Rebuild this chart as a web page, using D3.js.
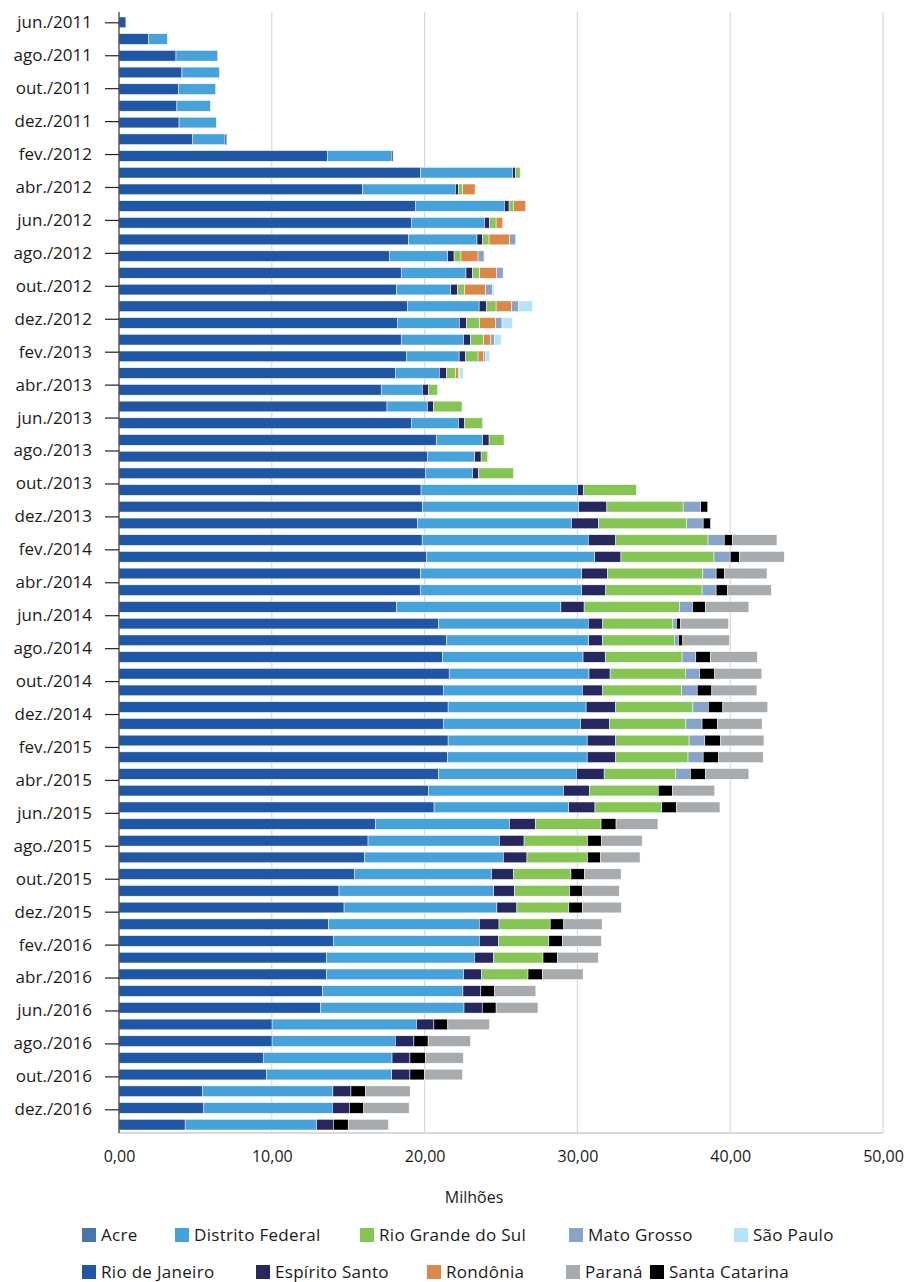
<!DOCTYPE html>
<html>
<head>
<meta charset="utf-8">
<script src="https://cdn.jsdelivr.net/npm/d3@7"></script>
<style>
  html, body { margin: 0; padding: 0; background: #ffffff; }
  svg { display: block; font-family: "Open Sans", "Noto Sans", sans-serif; }
</style>
</head>
<body>
<svg id="chart" width="910" height="1282"></svg>
<script>
// ---------- DATA ----------
const months = [
  "jun./2011","jul./2011","ago./2011","set./2011","out./2011","nov./2011","dez./2011",
  "jan./2012","fev./2012","mar./2012","abr./2012","mai./2012","jun./2012","jul./2012","ago./2012","set./2012","out./2012","nov./2012","dez./2012",
  "jan./2013","fev./2013","mar./2013","abr./2013","mai./2013","jun./2013","jul./2013","ago./2013","set./2013","out./2013","nov./2013","dez./2013",
  "jan./2014","fev./2014","mar./2014","abr./2014","mai./2014","jun./2014","jul./2014","ago./2014","set./2014","out./2014","nov./2014","dez./2014",
  "jan./2015","fev./2015","mar./2015","abr./2015","mai./2015","jun./2015","jul./2015","ago./2015","set./2015","out./2015","nov./2015","dez./2015",
  "jan./2016","fev./2016","mar./2016","abr./2016","mai./2016","jun./2016","jul./2016","ago./2016","set./2016","out./2016","nov./2016","dez./2016"
];

const xTicks = [0, 10, 20, 30, 40, 50];

const acre = [
  0,0,0,0,0,0,0,0,0,
  0,0,0,0,0,0,0,0,0,0,
  0,0,0,0,0,0,0,0,0,0,
  0,0,0,0,0,0,0,0,0,0,
  0,0,0,0,0,0,0,0,0,0,
  0,0,0,0,0,0,0,0,0,0,
  0,0,0,0,0,0,0,0
];
const rioDeJaneiro = [
  0.45,1.94,3.73,4.12,3.88,3.79,3.93,4.80,13.64,
  19.72,15.94,19.39,19.13,18.95,17.69,18.47,18.15,18.87,18.21,
  18.47,18.80,18.08,17.16,17.54,19.13,20.77,20.18,20.05,19.77,
  19.86,19.52,19.84,20.11,19.72,19.72,18.16,20.90,21.43,21.17,
  21.61,21.22,21.54,21.22,21.54,21.49,20.92,20.25,20.62,16.79,
  16.30,16.07,15.41,14.40,14.73,13.72,14.03,13.58,13.58,13.33,
  13.18,10.02,10.02,9.44,9.65,5.46,5.55,4.33
];
const distritoFederal = [
  0,1.22,2.73,2.45,2.45,2.19,2.44,2.14,4.18,
  6.03,6.07,5.83,4.78,4.48,3.82,4.24,3.55,4.70,4.06,
  4.07,3.46,2.88,2.69,2.64,3.08,3.03,3.10,3.08,10.23,
  10.21,10.09,10.87,11.02,10.56,10.56,10.76,9.81,9.31,9.20,
  9.15,9.10,9.03,8.99,9.10,9.15,9.01,8.83,8.81,8.76,
  8.59,9.08,8.97,10.12,10.00,9.86,9.55,9.68,8.97,9.18,
  9.40,9.44,8.06,8.43,8.20,8.54,8.41,8.60
];
const espiritoSanto = [
  0,0,0,0,0,0,0,0.11,0.11,
  0.19,0.20,0.31,0.35,0.35,0.42,0.42,0.46,0.47,0.46,
  0.46,0.43,0.46,0.41,0.41,0.41,0.42,0.42,0.41,0.41,
  1.86,1.77,1.80,1.72,1.70,1.58,1.52,0.95,0.89,1.45,
  1.38,1.34,1.94,1.88,1.87,1.87,1.82,1.72,1.72,1.71,
  1.62,1.55,1.43,1.36,1.31,1.29,1.24,1.24,1.17,1.17,
  1.19,1.15,1.22,1.17,1.19,1.18,1.12,1.10
];
const rioGrandeDoSul = [
  0,0,0,0,0,0,0,0,0,
  0.31,0.28,0.28,0.42,0.44,0.45,0.48,0.46,0.64,0.88,
  0.87,0.81,0.61,0.59,1.86,1.18,0.98,0.43,2.27,3.45,
  4.99,5.77,6.04,6.09,6.23,6.30,6.23,4.59,4.71,5.03,
  4.92,5.17,5.05,5.01,4.80,4.73,4.69,4.49,4.37,4.29,
  4.15,3.96,3.77,3.61,3.40,3.35,3.31,3.25,3.05,0,
  0,0,0,0,0,0,0,0
];
const rondonia = [
  0,0,0,0,0,0,0,0,0,
  0,0.81,0.81,0.43,1.35,1.12,1.09,1.38,1.02,1.04,
  0.46,0.37,0.20,0,0,0,0,0,0,0,
  0,0,0,0,0,0,0,0,0,0,
  0,0,0,0,0,0,0,0,0,0,
  0,0,0,0,0,0,0,0,0,0,
  0,0,0,0,0,0,0,0
];
const matoGrosso = [
  0,0,0,0,0,0,0,0,0,
  0,0,0,0,0.39,0.39,0.44,0.46,0.44,0.42,
  0.24,0.11,0.06,0,0,0,0,0,0,0,
  1.15,1.08,1.06,1.06,0.87,0.92,0.87,0.23,0.28,0.90,
  0.94,1.01,1.01,1.06,1.03,0.99,0.96,0,0,0,
  0,0,0,0,0,0,0,0,0,0,
  0,0,0,0,0,0,0,0
];
const saoPaulo = [
  0,0,0,0,0,0,0,0,0,
  0,0,0,0,0,0,0,0.09,0.92,0.70,
  0.44,0.28,0.23,0,0,0,0,0,0,0,
  0,0,0,0,0,0,0,0,0,0,
  0,0,0,0,0,0,0,0,0,0,
  0,0,0,0,0,0,0,0,0,0,
  0,0,0,0,0,0,0,0
];
const santaCatarina = [
  0,0,0,0,0,0,0,0,0,
  0,0,0,0,0,0,0,0,0,0,
  0,0,0,0,0,0,0,0,0,0,
  0.46,0.48,0.53,0.60,0.55,0.76,0.83,0.28,0.28,0.96,
  0.99,0.96,0.95,1.01,1.04,1.01,0.99,0.94,0.96,0.98,
  0.93,0.86,0.89,0.86,0.89,0.89,0.89,0.94,0.93,0.91,
  0.91,0.91,0.93,1.01,0.94,0.96,0.94,0.97
];
const parana = [
  0,0,0,0,0,0,0,0,0,
  0,0,0,0,0,0,0,0,0,0,
  0,0,0,0,0,0,0,0,0,0,
  0,0,2.92,2.94,2.78,2.85,2.85,3.13,3.05,3.06,
  3.08,2.95,2.94,2.92,2.83,2.92,2.83,2.76,2.85,2.74,
  2.65,2.58,2.39,2.39,2.55,2.51,2.55,2.67,2.67,2.69,
  2.74,2.72,2.77,2.48,2.50,2.92,2.97,2.64
];

const seriesNames = ["Acre","Rio de Janeiro","Distrito Federal","Espírito Santo","Rio Grande do Sul",
                     "Rondônia","Mato Grosso","São Paulo","Santa Catarina","Paraná"];
const seriesValues = [acre, rioDeJaneiro, distritoFederal, espiritoSanto, rioGrandeDoSul,
                      rondonia, matoGrosso, saoPaulo, santaCatarina, parana];
const seriesColors = ["#4677AC","#1F57A6","#45A2DA","#26275F","#84C553",
                      "#DA8747","#87A3CA","#B8E2F8","#000000","#A8ABAD"];

// legend layout order (two rows, as in the reference)
const legendRow1 = ["Acre","Distrito Federal","Rio Grande do Sul","Mato Grosso","São Paulo"];
const legendRow2 = ["Rio de Janeiro","Espírito Santo","Rondônia","Paraná","Santa Catarina"];

// ---------- CHART ----------
const svg = d3.select("#chart");
const plot = { left: 119, right: 883, top: 12, bottom: 1133 };

const x = d3.scaleLinear().domain([0, 50]).range([plot.left, plot.right]);
const y = d3.scaleBand().domain(months).range([14, 1133]).paddingInner(0.36).paddingOuter(0.18);
const tickLabels = months.filter((m, i) => i % 2 === 0);
const yLab = d3.scalePoint().domain(tickLabels).range([22.3, 1109.3]);

const color = d3.scaleOrdinal().domain(seriesNames).range(seriesColors);

// table for stacking
const table = months.map((m, i) => {
  const row = { month: m };
  seriesNames.forEach((s, k) => { row[s] = seriesValues[k][i]; });
  return row;
});
const stacked = d3.stack().keys(seriesNames)(table);

// gridlines
svg.append("g").selectAll("line")
  .data(xTicks.filter(t => t > 0))
  .join("line")
  .attr("x1", d => x(d)).attr("x2", d => x(d))
  .attr("y1", plot.top).attr("y2", plot.bottom)
  .attr("stroke", "#d9d9d9").attr("stroke-width", 1.2);

// bottom axis baseline
svg.append("line")
  .attr("x1", plot.left).attr("x2", plot.right)
  .attr("y1", plot.bottom).attr("y2", plot.bottom)
  .attr("stroke", "#d9d9d9").attr("stroke-width", 2);

// bars
svg.append("g").selectAll("g")
  .data(stacked)
  .join("g")
  .attr("fill", d => color(d.key))
  .selectAll("rect")
  .data(d => d.filter(seg => seg[1] - seg[0] > 0))
  .join("rect")
  .attr("x", d => x(d[0]))
  .attr("width", d => Math.max(0, x(d[1]) - x(d[0])))
  .attr("y", d => y(d.data.month))
  .attr("height", y.bandwidth())
  .attr("stroke", "#ffffff")
  .attr("stroke-width", 0.5);

// left axis line
svg.append("line")
  .attr("x1", plot.left).attr("x2", plot.left)
  .attr("y1", plot.top).attr("y2", plot.bottom)
  .attr("stroke", "#333333").attr("stroke-width", 1.2);

// y axis labels
const yAxis = svg.append("g")
  .attr("transform", `translate(${plot.left},0)`)
  .call(d3.axisLeft(yLab).tickSize(14).tickPadding(13));
yAxis.select(".domain").remove();
yAxis.selectAll(".tick line").attr("stroke", "#222").attr("stroke-width", 1.2);
yAxis.selectAll(".tick text")
  .attr("fill", "#1a1a1a")
  .style("font-size", "17px")
  .style("font-family", "'Open Sans', 'Noto Sans', sans-serif");

// x axis labels
const ptBR = d3.formatLocale({ decimal: ",", thousands: ".", grouping: [3], currency: ["R$", ""] });
const xAxis = svg.append("g")
  .attr("transform", `translate(0,${plot.bottom})`)
  .call(d3.axisBottom(x).tickValues(xTicks).tickSize(0).tickPadding(18).tickFormat(ptBR.format(".2f")));
xAxis.select(".domain").remove();
xAxis.selectAll(".tick text")
  .attr("fill", "#1a1a1a")
  .style("font-size", "16px")
  .style("font-family", "'Open Sans', 'Noto Sans', sans-serif");

// axis title
svg.append("text")
  .attr("x", 474).attr("y", 1203)
  .attr("text-anchor", "middle")
  .attr("fill", "#1a1a1a")
  .style("font-size", "16px")
  .text("Milhões");

// legend
const legendX1 = [82, 175, 360, 569, 734];
const legendX2 = [82, 256, 427, 566, 650];
function drawLegendRow(names, xs, cy) {
  const g = svg.append("g");
  names.forEach((n, i) => {
    g.append("rect")
      .attr("x", xs[i]).attr("y", cy - 7)
      .attr("width", 14).attr("height", 14)
      .attr("fill", color(n));
    g.append("text")
      .attr("x", xs[i] + 19).attr("y", cy)
      .attr("dy", "0.35em")
      .attr("fill", "#1a1a1a")
      .style("font-size", "17px")
      .style("letter-spacing", "0.3px")
      .text(n);
  });
}
drawLegendRow(legendRow1, legendX1, 1235);
drawLegendRow(legendRow2, legendX2, 1272);
</script>
</body>
</html>
